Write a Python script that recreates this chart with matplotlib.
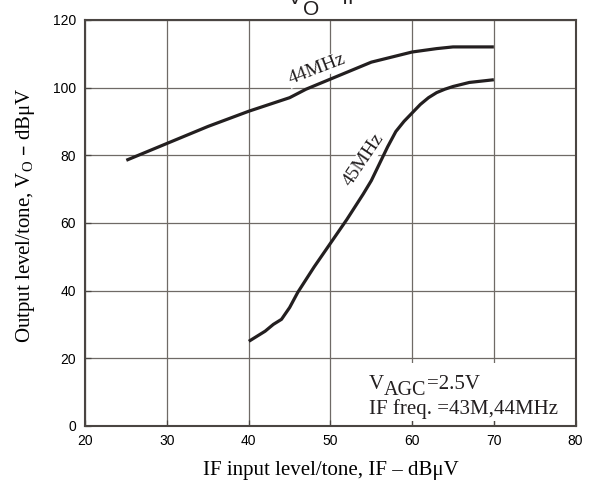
import matplotlib
matplotlib.use("Agg")
import matplotlib.pyplot as plt
from matplotlib.patches import Rectangle

# data
x44 = [25, 27, 30, 35, 40, 45, 47, 50, 55, 60, 63, 65, 70]
y44 = [78.5, 80.5, 83.5, 88.5, 93, 97, 99.5, 102.5, 107.5, 110.5, 111.5, 112, 112]

x45 = [40, 42, 43, 44, 45, 46, 48, 50, 52, 54, 55, 56, 57, 58, 59, 60, 61, 62, 63, 64, 65, 67, 70]
y45 = [25, 28, 30, 31.5, 35, 39.5, 47, 54, 61, 68.5, 72.5, 77.5, 82.5, 87, 90, 92.5, 95, 97,
       98.5, 99.5, 100.3, 101.5, 102.3]

xticks = [20, 30, 40, 50, 60, 70, 80]
yticks = [0, 20, 40, 60, 80, 100, 120]

plt.rcParams['mathtext.default'] = 'regular'
sans = 'Liberation Sans'
serif = 'Liberation Serif'
ink = '#231f20'

fig = plt.figure(figsize=(6.02, 4.84), dpi=100)
ax = fig.add_axes([0.142, 0.120, 0.814, 0.839])

ax.plot(x44, y44, color=ink, lw=2.3, solid_capstyle='butt', zorder=3)
ax.plot(x45, y45, color=ink, lw=2.3, solid_capstyle='butt', zorder=3)

ax.set_xlim(20, 80)
ax.set_ylim(0, 120)
ax.set_xticks(xticks)
ax.set_yticks(yticks)
ax.grid(True, color='#6f6a66', lw=0.9)
ax.set_axisbelow(True)
ax.tick_params(direction='in', length=4, width=0.9, color='#4a4542', labelsize=10)
ax.tick_params(axis='x', pad=6)
ax.tick_params(axis='y', pad=7)
for lab in ax.get_xticklabels() + ax.get_yticklabels():
    lab.set_fontfamily(sans)
for sp in ax.spines.values():
    sp.set_color('#4a4542')
    sp.set_linewidth(1.5)
    sp.set_zorder(4)

ax.set_xlabel('IF input level/tone, IF – dBμV', family=serif, fontsize=15, labelpad=9)
ax.set_ylabel('Output level/tone, V$_O$ – dBμV', family=serif, fontsize=15)
ax.yaxis.set_label_coords(-0.099, 0.52)

# curve labels
ax.text(48.3, 105.4, '44MHz', family=serif, fontsize=14, rotation=21,
        ha='center', va='center', color=ink,
        bbox=dict(facecolor='white', edgecolor='none', pad=0.5), zorder=2)
ax.text(54.1, 78.6, '45MHz', family=serif, fontsize=14, rotation=56,
        ha='center', va='center', color=ink,
        bbox=dict(facecolor='white', edgecolor='none', pad=0.5), zorder=2)

# condition box
ax.add_patch(Rectangle((53.9, 1.5), 26.1, 17.0, facecolor='white', edgecolor='none', zorder=1.5))
tv = ax.text(54.7, 10.9, 'V', family=serif, fontsize=15, ha='left', va='baseline', color=ink, zorder=2)
ta = ax.annotate('AGC', xy=(1, 0), xycoords=tv, xytext=(0, -4), textcoords='offset points',
                 family=serif, fontsize=14.5, ha='left', va='bottom', color=ink, zorder=2)
ax.annotate('=2.5V', xy=(1, 0), xycoords=ta, xytext=(0, 4), textcoords='offset points',
            family=serif, fontsize=15, ha='left', va='bottom', color=ink, zorder=2)
ax.text(54.7, 3.6, 'IF freq. =43M,44MHz', family=serif, fontsize=15,
        ha='left', va='baseline', color=ink, zorder=2)

# title, mostly cut off by the top edge
t1 = fig.text(288 / 602, 1 - 4 / 484, 'V', family=sans, fontsize=15,
              ha='left', va='baseline', color=ink)
to = fig.add_artist(plt.Annotation('O', xy=(1, 0), xycoords=t1, xytext=(0.5, -8),
                                   textcoords='offset points', family=sans, fontsize=15,
                                   ha='left', va='bottom', color=ink))
fig.add_artist(plt.Annotation(' – IF', xy=(1, 0), xycoords=to, xytext=(0, 8),
                              textcoords='offset points', family=sans, fontsize=15,
                              ha='left', va='bottom', color=ink))

fig.savefig('out.png', dpi=100)
